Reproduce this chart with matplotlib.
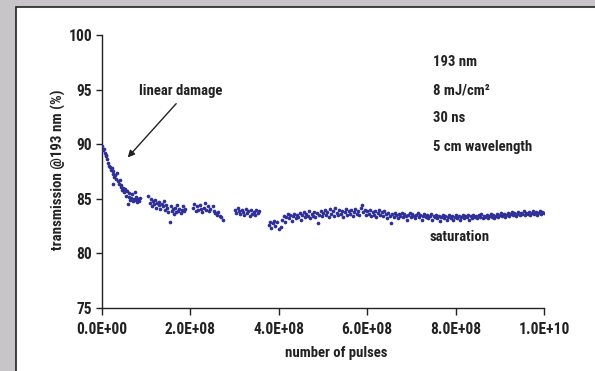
import matplotlib
matplotlib.use("Agg")
import matplotlib.pyplot as plt
from matplotlib import font_manager
from matplotlib.patches import Rectangle

# pick a condensed face if one is installed
installed = {f.name for f in font_manager.fontManager.ttflist}
narrow = [n for n in ['Liberation Sans Narrow', 'Roboto Condensed', 'Open Sans Condensed',
                      'Liberation Sans'] if n in installed]
plt.rcParams['font.family'] = narrow[:1] + ['DejaVu Sans']
plt.rcParams['font.weight'] = 'bold'
plt.rcParams['font.stretch'] = 'condensed'

# number of pulses in units of 1e8, transmission in %
seg1_x = [0.00, 0.02, 0.04, 0.06, 0.08, 0.10, 0.12, 0.14, 0.16, 0.18, 0.20, 0.22, 0.24,
          0.25, 0.26, 0.28, 0.30, 0.32, 0.34, 0.36, 0.38, 0.40, 0.42, 0.44, 0.46, 0.48,
          0.50, 0.52, 0.54, 0.56, 0.58, 0.60, 0.62, 0.64, 0.66, 0.68, 0.70, 0.72, 0.74,
          0.76, 0.78, 0.80, 0.82, 0.84, 0.86]
seg1_y = [89.8, 89.5, 89.6, 89.2, 89.0, 88.9, 88.6, 88.3, 88.0, 87.9, 87.6, 87.8, 87.3,
          86.4, 87.5, 87.0, 87.2, 86.8, 87.4, 86.6, 86.4, 86.7, 86.1, 86.3, 85.8, 86.0,
          85.6, 85.9, 85.3, 85.7, 84.5, 85.2, 85.5, 84.9, 85.1, 85.4, 84.8, 85.0, 85.6,
          84.9, 85.2, 84.7, 85.0, 84.8, 85.1]

seg2_x = [1.05, 1.08, 1.10, 1.12, 1.15, 1.18, 1.20, 1.22, 1.25, 1.28, 1.30, 1.32, 1.35,
          1.38, 1.40, 1.42, 1.45, 1.48, 1.50, 1.53, 1.55, 1.58, 1.60, 1.62, 1.65, 1.68,
          1.70, 1.72, 1.75, 1.78, 1.80, 1.83, 1.85, 1.88]
seg2_y = [85.3, 84.6, 85.0, 84.3, 84.8, 84.5, 84.9, 84.2, 84.6, 84.4, 84.7, 84.1, 84.5,
          84.3, 84.8, 84.0, 84.4, 84.2, 83.8, 82.9, 84.3, 83.9, 84.1, 83.6, 84.2, 83.8,
          84.4, 83.9, 84.1, 83.7, 84.0, 84.3, 83.9, 84.1]

seg3_x = [2.06, 2.09, 2.12, 2.15, 2.18, 2.21, 2.24, 2.27, 2.30, 2.33, 2.36, 2.39, 2.42,
          2.45, 2.50, 2.53, 2.56, 2.60, 2.63, 2.66, 2.70, 2.74]
seg3_y = [84.2, 84.5, 83.9, 84.3, 84.0, 84.4, 84.1, 83.8, 84.2, 84.6, 84.0, 84.3, 83.9,
          84.1, 84.3, 83.9, 83.7, 83.5, 83.8, 83.4, 83.3, 83.1]

seg4_x = [3.01, 3.04, 3.07, 3.10, 3.13, 3.16, 3.19, 3.22, 3.25, 3.28, 3.31, 3.34, 3.37,
          3.40, 3.43, 3.46, 3.49, 3.52, 3.55]
seg4_y = [84.0, 83.7, 84.2, 83.9, 83.6, 84.0, 83.8, 83.5, 84.1, 83.7, 83.9, 83.4, 84.0,
          83.6, 83.8, 83.5, 84.0, 83.7, 83.9]

seg5_x = [3.77, 3.80, 3.83, 3.86, 3.89, 3.92, 3.95, 4.00, 4.05, 4.08, 4.11, 4.14, 4.17,
          4.20, 4.23, 4.26, 4.29, 4.32, 4.35, 4.38, 4.41, 4.44, 4.47, 4.50, 4.53, 4.56,
          4.59, 4.62, 4.65, 4.68, 4.71, 4.74, 4.77, 4.80, 4.83, 4.86, 4.89, 4.92, 4.95,
          4.98, 5.01, 5.04, 5.07, 5.10, 5.13, 5.16, 5.19, 5.22, 5.25, 5.28, 5.31, 5.34,
          5.37, 5.40, 5.43, 5.46, 5.49, 5.52, 5.55, 5.58, 5.61, 5.64, 5.67, 5.70, 5.73,
          5.76, 5.79, 5.82, 5.85, 5.88, 5.91, 5.94, 5.97, 6.00, 6.03, 6.06, 6.09, 6.12,
          6.15, 6.18, 6.21, 6.24, 6.27, 6.30, 6.33, 6.36, 6.39, 6.42, 6.45, 6.48, 6.51,
          6.54, 6.57, 6.60, 6.63, 6.66, 6.69, 6.72, 6.75, 6.78, 6.81, 6.84, 6.87, 6.90,
          6.93, 6.96, 6.99, 7.02, 7.05, 7.08, 7.11, 7.14, 7.17, 7.20, 7.23, 7.26, 7.29,
          7.32, 7.35, 7.38, 7.41, 7.44, 7.47, 7.50, 7.53, 7.56, 7.59, 7.62, 7.65, 7.68,
          7.71, 7.74, 7.77, 7.80, 7.83, 7.86, 7.89, 7.92, 7.95, 7.98, 8.01, 8.04, 8.07,
          8.10, 8.13, 8.16, 8.19, 8.22, 8.25, 8.28, 8.31, 8.34, 8.37, 8.40, 8.43, 8.46,
          8.49, 8.52, 8.55, 8.58, 8.61, 8.64, 8.67, 8.70, 8.73, 8.76, 8.79, 8.82, 8.85,
          8.88, 8.91, 8.94, 8.97, 9.00, 9.03, 9.06, 9.09, 9.12, 9.15, 9.18, 9.21, 9.24,
          9.27, 9.30, 9.33, 9.36, 9.39, 9.42, 9.45, 9.48, 9.51, 9.54, 9.57, 9.60, 9.63,
          9.66, 9.69, 9.72, 9.75, 9.78, 9.81, 9.84, 9.87, 9.90, 9.93, 9.96, 9.99]
seg5_y = [82.6, 82.9, 82.3, 82.8, 83.0, 82.5, 82.9, 82.2, 82.4, 83.1, 83.4, 82.9, 83.3,
          83.6, 83.2, 83.5, 83.0, 83.4, 83.6, 83.2, 83.5, 83.3, 83.7, 83.1, 83.5, 83.8,
          83.3, 83.6, 83.4, 83.9, 83.2, 83.6, 83.4, 83.8, 83.3, 83.7, 82.8, 83.5, 83.9,
          83.4, 83.7, 84.0, 83.5, 83.8, 83.3, 84.1, 83.6, 83.9, 83.4, 84.2, 83.7, 83.5,
          84.0, 83.6, 83.9, 83.3, 83.8, 84.1, 83.5, 83.9, 83.6, 84.0, 83.4, 83.8, 84.1,
          83.6, 83.9, 83.5, 84.2, 84.4, 83.8, 84.0, 83.5, 83.9, 83.6, 84.0, 83.4, 83.8,
          83.5, 83.9, 83.3, 83.7, 84.0, 83.5, 83.8, 83.4, 83.9, 83.6, 83.2, 83.7, 83.4,
          82.8, 83.6, 83.3, 83.7, 83.5, 83.2, 83.6, 83.4, 83.7, 83.3, 83.6, 83.4, 83.1,
          83.5, 83.7, 83.3, 83.6, 83.4, 83.2, 83.5, 83.7, 83.3, 83.5, 83.1, 83.4, 83.6,
          83.3, 83.5, 83.2, 83.4, 83.6, 83.1, 83.4, 83.3, 83.5, 83.2, 83.4, 83.0, 83.3,
          83.5, 83.2, 83.4, 83.1, 83.3, 83.5, 83.2, 83.4, 83.1, 83.3, 83.5, 83.2, 83.4,
          83.1, 83.3, 83.5, 83.2, 83.4, 83.3, 83.5, 83.1, 83.4, 83.2, 83.5, 83.3, 83.4,
          83.2, 83.5, 83.3, 83.6, 83.2, 83.4, 83.3, 83.5, 83.2, 83.4, 83.6, 83.3, 83.5,
          83.2, 83.4, 83.6, 83.3, 83.5, 83.7, 83.4, 83.6, 83.3, 83.5, 83.7, 83.4, 83.6,
          83.8, 83.5, 83.7, 83.4, 83.6, 83.8, 83.5, 83.7, 83.6, 83.9, 83.5, 83.7, 83.6,
          83.8, 83.5, 83.7, 83.9, 83.6, 83.8, 83.5, 83.7, 83.9, 83.6, 83.8, 83.7]

x_ticks = [0, 2e8, 4e8, 6e8, 8e8, 10e8]
x_tick_labels = ["0.0E+00", "2.0E+08", "4.0E+08", "6.0E+08", "8.0E+08", "1.0E+10"]
y_ticks = [75, 80, 85, 90, 95, 100]

params = ["193 nm", "8 mJ/cm\u00b2", "30 ns", "5 cm wavelength"]

ink = '#222222'
dot = '#2f2f98'

fig = plt.figure(figsize=(5.95, 3.71), dpi=100)
fig.patch.set_facecolor('#c7c5c8')
# white panel with dark frame behind the chart
panel = Rectangle((16 / 595, -0.05), 1.0, 1.05 - 7 / 371,
                  transform=fig.transFigure, facecolor='white',
                  edgecolor=ink, linewidth=1.2, zorder=-10)
fig.add_artist(panel)

ax = fig.add_axes([102 / 595, 1 - 308 / 371, 442 / 595, 273 / 371])
ax.set_facecolor('none')
ax.set_zorder(5)

for xs, ys in [(seg1_x, seg1_y), (seg2_x, seg2_y), (seg3_x, seg3_y),
               (seg4_x, seg4_y), (seg5_x, seg5_y)]:
    ax.scatter([v * 1e8 for v in xs], ys, s=7, color=dot, linewidths=0, zorder=3)

ax.set_xlim(0, 10e8)
ax.set_ylim(75, 100)
ax.set_xticks(x_ticks)
ax.set_xticklabels(x_tick_labels)
ax.set_yticks(y_ticks)

for side in ['top', 'right']:
    ax.spines[side].set_visible(False)
for side in ['left', 'bottom']:
    ax.spines[side].set_color(ink)
    ax.spines[side].set_linewidth(1.0)
ax.tick_params(axis='x', direction='out', length=5, width=1, color=ink,
               labelsize=11.2, labelcolor=ink, pad=5)
ax.tick_params(axis='y', direction='out', length=4, width=1, color=ink,
               labelsize=11.2, labelcolor=ink, pad=3)

fig.text(336 / 595, 1 - 353 / 371, "number of pulses", ha='center', va='center',
         fontsize=10.6, color=ink, fontweight='bold')
fig.text(58 / 595, 1 - 170 / 371, "transmission @193 nm (%)", ha='center', va='center',
         rotation=90, fontsize=10.8, color=ink, fontweight='bold')

for i, txt in enumerate(params):
    ax.text(0.749, [0.901, 0.798, 0.696, 0.590][i], txt, transform=ax.transAxes,
            ha='left', va='center', fontsize=10.6, color=ink, fontweight='bold')

ax.text(0.742, 0.260, "saturation", transform=ax.transAxes, ha='left', va='center',
        fontsize=10.6, color=ink, fontweight='bold')
ax.text(0.179, 0.795, "linear damage", transform=ax.transAxes, ha='center', va='center',
        fontsize=10.6, color=ink, fontweight='bold')
ax.annotate('', xy=(0.54e8, 88.6), xytext=(1.72e8, 93.9),
            arrowprops=dict(arrowstyle='-|>', color=ink, lw=1.0, mutation_scale=10))

fig.savefig('out.png', dpi=100, facecolor=fig.get_facecolor())
